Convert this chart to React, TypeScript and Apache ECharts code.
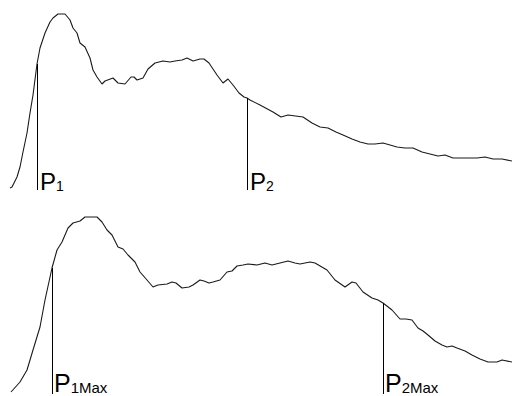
import React, { useEffect, useRef } from "react";
import * as echarts from "echarts";

// Sample positions (time units) and amplitudes
const topX = [10, 12, 17, 20, 23, 27, 30, 33, 37, 40, 45, 50, 53, 58, 65, 70, 73, 77, 80, 85, 90, 93, 97, 102, 105, 113, 118, 125, 131, 134, 137, 143, 148, 155, 163, 170, 175, 182, 187, 193, 200, 204, 209, 217, 223, 228, 233, 239, 244, 247, 250, 260, 273, 281, 288, 303, 312, 320, 328, 336, 343, 352, 360, 368, 375, 383, 390, 397, 405, 413, 422, 430, 438, 445, 453, 463, 477, 485, 493, 502, 512];
const topY = [2, 3, 13, 23, 38, 57, 77, 95, 126, 142, 157, 168, 172, 176, 176, 170, 162, 157, 147, 143, 132, 120, 113, 106, 109, 112, 107, 106, 113, 113, 110, 112, 121, 127, 129, 128, 129, 130, 132, 129, 131, 131, 127, 115, 107, 111, 105, 97, 93, 92, 90, 85, 78, 73, 75, 73, 67, 63, 62, 58, 55, 51, 48, 46, 46, 47, 45, 43, 42, 42, 38, 36, 34, 35, 32, 32, 32, 33, 31, 31, 29];

const botX = [11, 20, 27, 33, 40, 45, 52, 57, 62, 68, 73, 80, 85, 97, 102, 107, 112, 118, 123, 128, 135, 140, 147, 153, 158, 167, 172, 176, 182, 189, 193, 200, 204, 209, 213, 220, 227, 232, 237, 243, 248, 257, 265, 272, 280, 288, 295, 300, 310, 315, 327, 335, 345, 352, 356, 363, 372, 378, 383, 392, 400, 406, 412, 418, 423, 428, 435, 442, 447, 452, 457, 465, 472, 480, 488, 497, 502, 512];
const botY = [2, 12, 24, 44, 67, 94, 126, 144, 152, 166, 171, 173, 177, 177, 172, 164, 159, 147, 145, 139, 132, 122, 114, 107, 109, 110, 112, 111, 106, 107, 109, 114, 113, 111, 112, 114, 122, 123, 128, 129, 130, 129, 131, 129, 131, 133, 131, 130, 132, 131, 124, 114, 107, 112, 111, 102, 96, 94, 91, 84, 75, 75, 74, 66, 63, 59, 53, 49, 47, 48, 46, 43, 39, 35, 32, 32, 34, 32];

// Marker positions
const topMarkX = [37, 247];
const topMarkSub = ["1", "2"];
const botMarkX = [52, 383];
const botMarkSub = ["1Max", "2Max"];

const FONT = "'Liberation Sans', Arial, sans-serif";

function pairs(xs: number[], ys: number[]) {
  return xs.map((x, i) => [x, ys[i]]);
}
function valueAt(xs: number[], ys: number[], x: number) {
  const i = xs.indexOf(x);
  return ys[i];
}

function makeSeries(
  idx: number,
  xs: number[],
  ys: number[],
  marks: number[],
  subs: string[],
  pSize: number,
  sSize: number,
  dx: number,
  dy: number
) {
  return {
    type: "line",
    xAxisIndex: idx,
    yAxisIndex: idx,
    data: pairs(xs, ys),
    showSymbol: false,
    symbol: "none",
    smooth: false,
    lineStyle: { color: "#1a1a1a", width: 1.1 },
    silent: true,
    markLine: {
      silent: true,
      symbol: "none",
      animation: false,
      label: { show: false },
      lineStyle: { color: "#000", width: 1, type: "solid" },
      data: marks.map((m) => [
        { coord: [m, 0] },
        { coord: [m, valueAt(xs, ys, m)] },
      ]),
    },
    markPoint: {
      silent: true,
      symbol: "circle",
      symbolSize: 0,
      animation: false,
      data: marks.map((m, i) => ({
        coord: [m, 0],
        label: {
          show: true,
          position: [dx, dy],
          align: "left",
          verticalAlign: "bottom",
          formatter: "{p|P}{s|" + subs[i] + "}",
          rich: {
            p: {
              fontSize: pSize,
              lineHeight: pSize,
              fontFamily: FONT,
              color: "#000",
              verticalAlign: "bottom",
            },
            s: {
              fontSize: sSize,
              lineHeight: sSize,
              fontFamily: FONT,
              color: "#000",
              verticalAlign: "bottom",
            },
          },
        },
      })),
    },
  };
}

export default function App() {
  const ref = useRef<HTMLDivElement>(null);
  useEffect(() => {
    if (!ref.current) return;
    const chart = echarts.init(ref.current, null, { renderer: "svg" });
    const axisX = (gi: number) => ({
      type: "value",
      gridIndex: gi,
      min: 0,
      max: 512,
      show: false,
      splitLine: { show: false },
    });
    const axisY = (gi: number) => ({
      type: "value",
      gridIndex: gi,
      min: 0,
      max: 190,
      show: false,
      splitLine: { show: false },
    });
    chart.setOption({
      animation: false,
      backgroundColor: "#ffffff",
      grid: [
        { left: 0, right: 0, top: 0, height: 190 },
        { left: 0, right: 0, top: 204, height: 190 },
      ],
      xAxis: [axisX(0), axisX(1)],
      yAxis: [axisY(0), axisY(1)],
      series: [
        makeSeries(0, topX, topY, topMarkX, topMarkSub, 24, 14, 3, 3),
        makeSeries(1, botX, botY, botMarkX, botMarkSub, 25, 15, 2, 1),
      ],
    });
    return () => chart.dispose();
  }, []);
  return (
    <div
      ref={ref}
      style={{ position: "fixed", left: 0, top: 0, width: 512, height: 396, background: "#fff" }}
    />
  );
}
